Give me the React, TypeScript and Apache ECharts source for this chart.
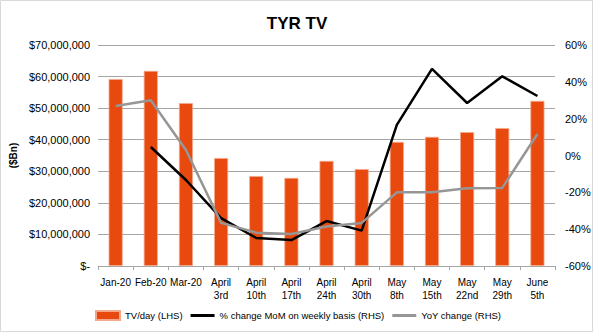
import React, { useEffect, useRef } from "react";
import * as echarts from "echarts";

const categories = ["Jan-20", "Feb-20", "Mar-20", "April\n3rd", "April\n10th", "April\n17th", "April\n24th", "April\n30th", "May\n8th", "May\n15th", "May\n22nd", "May\n29th", "June\n5th"];
const tvPerDay = [59200000, 61800000, 51600000, 34200000, 28500000, 27900000, 33300000, 30700000, 39300000, 40900000, 42400000, 43700000, 52300000];
const momChange = [null, 4.6, -13.3, -34, -44.8, -45.9, -35.6, -40.8, 16.6, 47, 28.5, 43, 32.3];
const yoyChange = [26.9, 30, 3, -36.6, -41.9, -42.6, -38.6, -36.6, -20, -20, -17.8, -17.6, 11.7];

const FONT = "'Liberation Sans', Arial, sans-serif";

function fmtMoney(v: number): string {
  if (v === 0) return "$-";
  return "$" + v.toLocaleString("en-US");
}

export default function App() {
  const ref = useRef<HTMLDivElement>(null);
  useEffect(() => {
    if (!ref.current) return;
    const chart = echarts.init(ref.current, null, { renderer: "svg" });
    chart.setOption({
      animation: false,
      backgroundColor: "#ffffff",
      textStyle: { fontFamily: FONT },
      title: {
        text: "TYR TV",
        left: "center",
        top: 10,
        textStyle: { fontSize: 17, fontWeight: "bold", color: "#000", fontFamily: FONT },
      },
      graphic: [
        {
          type: "rect",
          shape: { x: 0.5, y: 0.5, width: 592, height: 331 },
          style: { fill: "none", stroke: "#d9d9d9", lineWidth: 1 },
          silent: true,
        },
      ],
      legend: {
        bottom: 7,
        left: 90,
        itemGap: 8,
        itemWidth: 24,
        itemHeight: 9,
        textStyle: { fontSize: 9.5, color: "#000", fontFamily: FONT },
        data: [
          { name: "TV/day (LHS)", icon: "rect" },
          { name: "% change MoM on weekly basis (RHS)", icon: "path://M0,0 L24,0 L24,3 L0,3 Z" },
          { name: "YoY change (RHS)", icon: "path://M0,0 L24,0 L24,3 L0,3 Z" },
        ],
      },
      grid: { left: 98, right: 39, top: 45, bottom: 67 },
      xAxis: {
        type: "category",
        data: categories,
        boundaryGap: true,
        axisLine: { lineStyle: { color: "#a6a6a6", width: 1 } },
        axisTick: { show: true, alignWithLabel: false, length: 4, lineStyle: { color: "#a6a6a6" } },
        axisLabel: { fontSize: 10, color: "#000", lineHeight: 13, margin: 10, interval: 0, fontFamily: FONT },
      },
      yAxis: [
        {
          type: "value",
          min: 0,
          max: 70000000,
          interval: 10000000,
          name: "($Bn)",
          nameLocation: "middle",
          nameGap: 68,
          nameRotate: 90,
          nameTextStyle: { fontSize: 10, fontWeight: "bold", color: "#000", fontFamily: FONT },
          axisLine: { show: false },
          axisTick: { show: false },
          splitLine: { lineStyle: { color: "#a6a6a6", width: 1 } },
          axisLabel: { fontSize: 11, color: "#000", margin: 8, formatter: (v: number) => fmtMoney(v), fontFamily: FONT },
        },
        {
          type: "value",
          min: -60,
          max: 60,
          interval: 20,
          position: "right",
          axisLine: { show: false },
          axisTick: { show: false },
          splitLine: { show: false },
          axisLabel: { fontSize: 11, color: "#000", margin: 10, formatter: (v: number) => v + "%", fontFamily: FONT },
        },
      ],
      series: [
        {
          name: "TV/day (LHS)",
          type: "bar",
          data: tvPerDay,
          barWidth: "40%",
          itemStyle: { color: "#E8490F", borderColor: "#F4A98C", borderWidth: 0.8 },
          yAxisIndex: 0,
        },
        {
          name: "% change MoM on weekly basis (RHS)",
          type: "line",
          data: momChange,
          yAxisIndex: 1,
          symbol: "none",
          connectNulls: false,
          lineStyle: { color: "#000000", width: 2.5 },
          itemStyle: { color: "#000000" },
        },
        {
          name: "YoY change (RHS)",
          type: "line",
          data: yoyChange,
          yAxisIndex: 1,
          symbol: "none",
          lineStyle: { color: "#969696", width: 2.5 },
          itemStyle: { color: "#969696" },
        },
      ],
    });
    return () => chart.dispose();
  }, []);
  return <div ref={ref} style={{ position: "absolute", left: 0, top: 0, width: 594, height: 333 }} />;
}
